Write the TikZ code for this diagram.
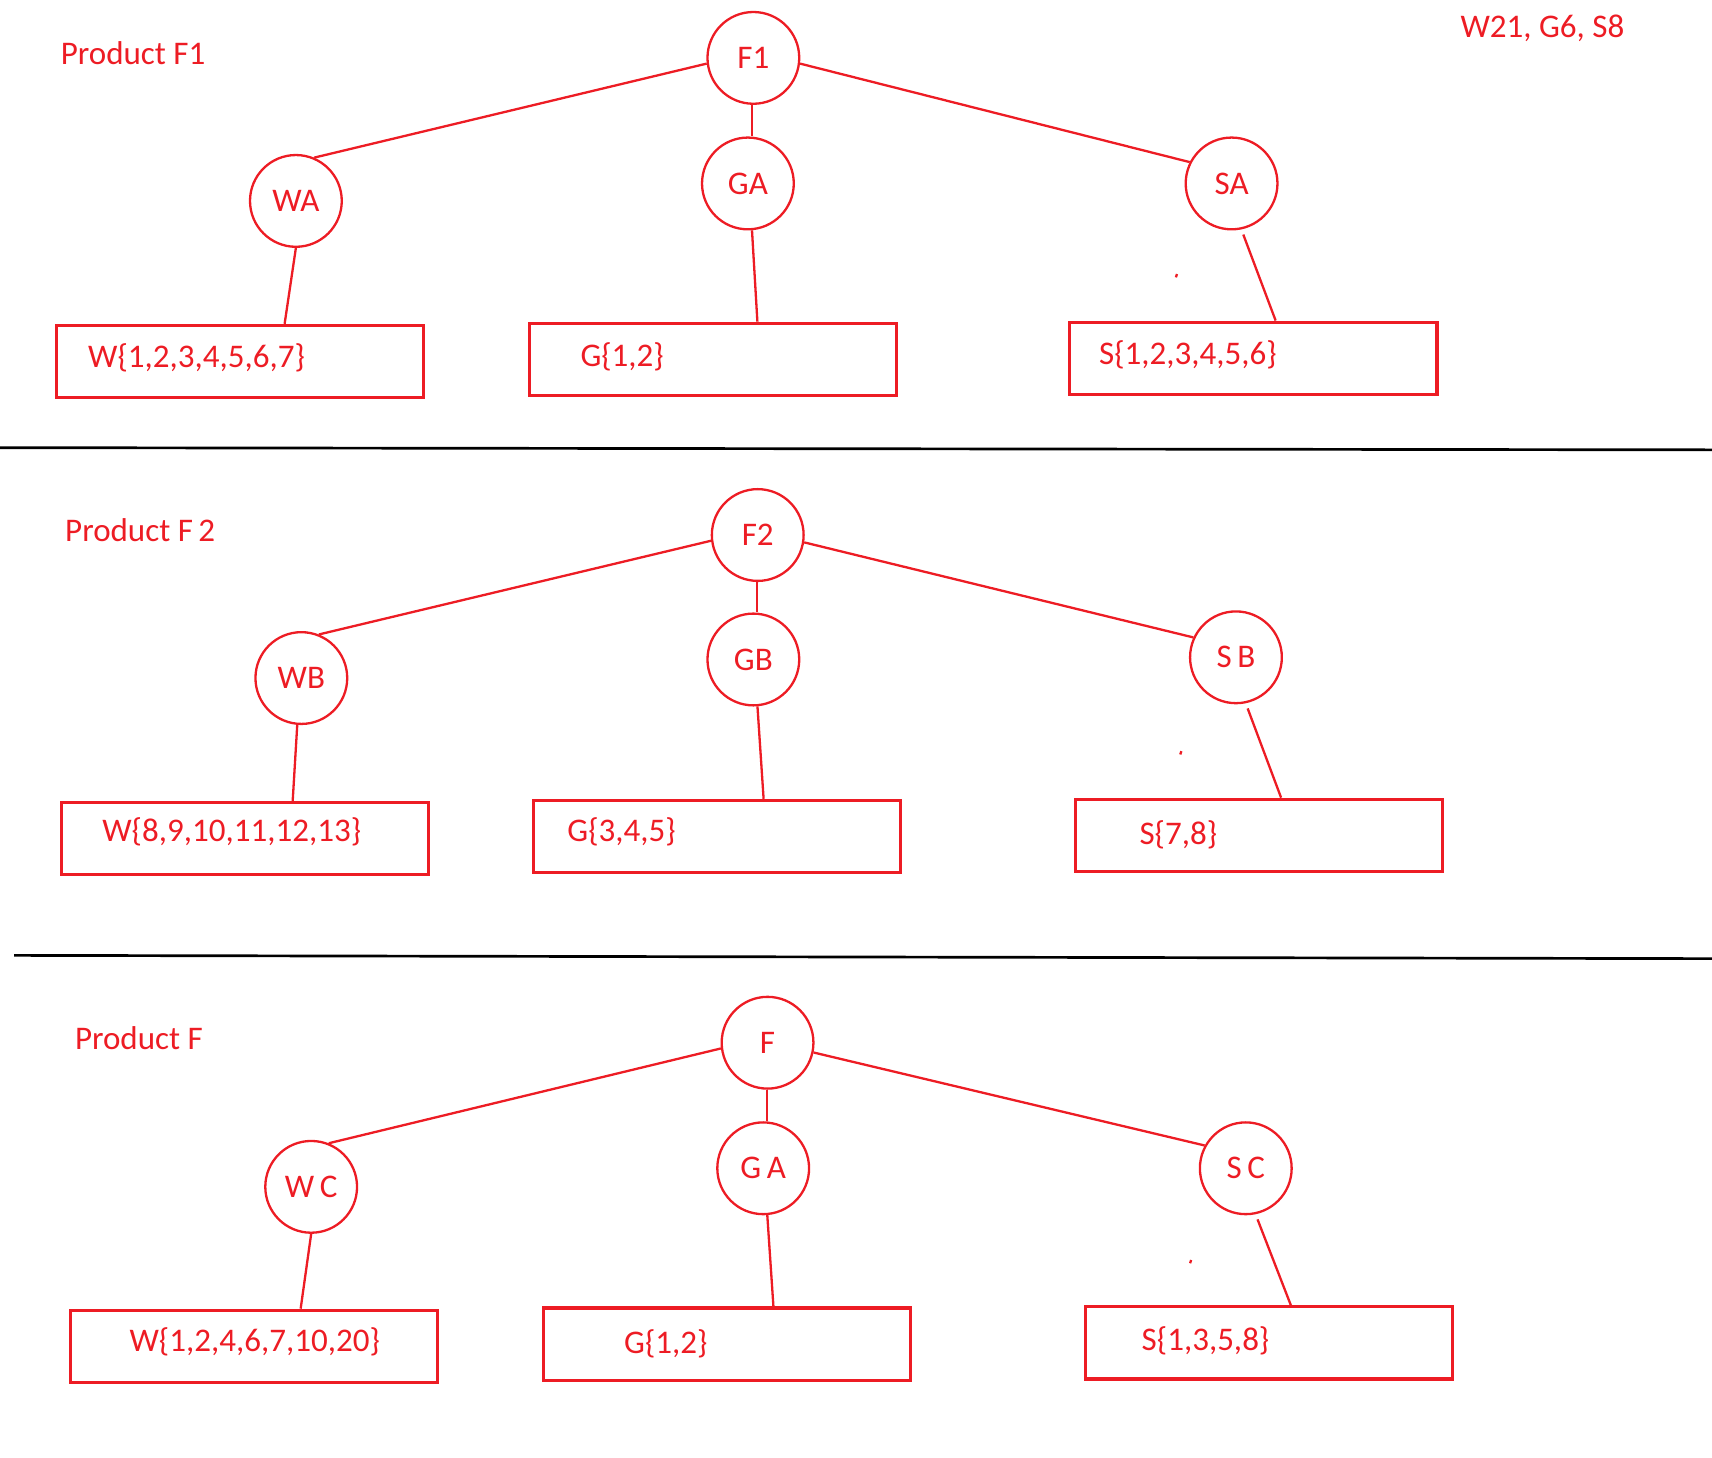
\documentclass[tikz,border=0pt]{standalone}
\usepackage{fontspec}
\setmainfont{Carlito}
\usetikzlibrary{positioning,calc}
\definecolor{paintred}{RGB}{237,28,36}
\tikzset{
    % Tree node styles
    part/.style={
        circle, draw=paintred, line width=0.6pt,
        minimum size=0.84cm, inner sep=0pt, text=paintred
    },
    setbox/.style={
        rectangle, draw=paintred, line width=0.8pt,
        minimum width=3.36cm, minimum height=0.66cm
    },
    settext/.style={anchor=west, inner sep=0pt, text=paintred},
    link/.style={draw=paintred, line width=0.6pt},
    divider/.style={draw=black, line width=0.7pt}
}

\begin{document}
\begin{tikzpicture}[x=0.01cm, y=-0.01cm, font=\fontsize{8.6}{10}\selectfont]
\useasboundingbox (0,0) rectangle (1568,1335);

% Product F1
\node[settext] (title1) at (55,49) {Product F1};
\node[settext] (count) at (1337,26) {W21, G6, S8};
\node[part] (F1) at (690,53) {F1};
\node[part] (WA) at (271,184) {WA};
\node[part] (GA1) at (685,168) {GA};
\node[part] (SA) at (1128,168) {SA};
\node[setbox] (W1) at (220,331) {};
\node[setbox] (G1) at (653,329) {};
\node[setbox] (S1) at (1148,328) {};
\node[settext] (W1t) at (80,328) {W\{1,2,3,4,5,6,7\}};
\node[settext] (G1t) at (531,327) {G\{1,2\}};
\node[settext] (S1t) at (1006,325) {S\{1,2,3,4,5,6\}};
\draw[link] (F1.187) -- (WA.67);
\draw[link] (F1.-92) -- (F1.-92 |- GA1.north);
\draw[link] (F1.-7) -- (SA.153);
\draw[link] (WA.south) -- ($(W1.north west)!0.62!(W1.north east)$);
\draw[link] (GA1.-85) -- ($(G1.north west)!0.62!(G1.north east)$);
\draw[link, shorten <=0.05cm] (SA.-78) -- ($(S1.north west)!0.56!(S1.north east)$);
\draw[paintred, line width=0.6pt] (1078,251) -- (1077,254);

% divider
\draw[divider] (0,410) -- (1568,412);

% Product F2
\node[settext] (title2) at (59,486) {Product F\,2};
\node[part] (F2) at (694,490) {F2};
\node[part] (WB) at (276,621) {WB};
\node[part] (GB) at (690,604) {GB};
\node[part] (SB) at (1132,602) {S\,B};
\node[setbox] (W2) at (224,768) {};
\node[setbox] (G2) at (657,766) {};
\node[setbox] (S2) at (1153,765) {};
\node[settext] (W2t) at (93,762) {W\{8,9,10,11,12,13\}};
\node[settext] (G2t) at (519,762) {G\{3,4,5\}};
\node[settext] (S2t) at (1043,765) {S\{7,8\}};
\draw[link] (F2.187) -- (WB.68);
\draw[link] (F2.-91) -- (F2.-91 |- GB.north);
\draw[link] (F2.-9) -- (SB.155);
\draw[link] (WB.-95) -- ($(W2.north west)!0.63!(W2.north east)$);
\draw[link] (GB.-85) -- ($(G2.north west)!0.625!(G2.north east)$);
\draw[link, shorten <=0.05cm] (SB.-78) -- ($(S2.north west)!0.56!(S2.north east)$);
\draw[paintred, line width=0.6pt] (1082,688) -- (1081,691);

% divider
\draw[divider] (13,875) -- (1568,878);

% Product F
\node[settext] (title3) at (68,951) {Product F};
\node[part] (F) at (703,955) {F};
\node[part] (WC) at (285,1087) {W\,C};
\node[part] (GA3) at (699,1070) {G\,A};
\node[part] (SC) at (1141,1070) {S\,C};
\node[setbox] (W3) at (233,1233) {};
\node[setbox] (G3) at (666,1231) {};
\node[setbox] (S3) at (1162,1230) {};
\node[settext] (W3t) at (118,1229) {W\{1,2,4,6,7,10,20\}};
\node[settext] (G3t) at (571,1231) {G\{1,2\}};
\node[settext] (S3t) at (1045,1228) {S\{1,3,5,8\}};
\draw[link] (F.187) -- (WC.68);
\draw[link] (F.-91) -- (F.-91 |- GA3.north);
\draw[link] (F.-12) -- (SC.151);
\draw[link] (WC.south) -- ($(W3.north west)!0.625!(W3.north east)$);
\draw[link] (GA3.-85) -- ($(G3.north west)!0.625!(G3.north east)$);
\draw[link, shorten <=0.05cm] (SC.-78) -- ($(S3.north west)!0.56!(S3.north east)$);
\draw[paintred, line width=0.6pt] (1091,1154) -- (1090,1157);

\end{tikzpicture}
\end{document}
